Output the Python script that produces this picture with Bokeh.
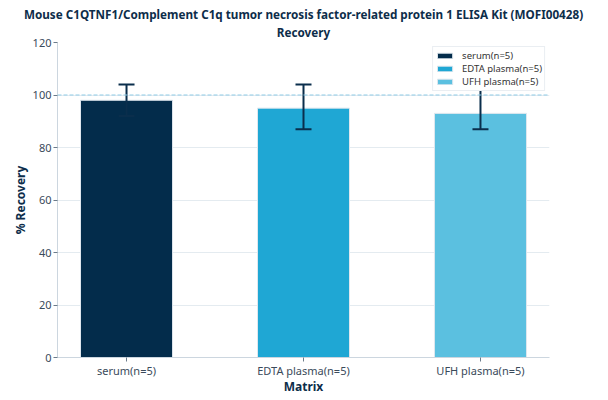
from bokeh.plotting import figure
from bokeh.models import (ColumnDataSource, Range1d, FixedTicker, Whisker, TeeHead,
                          Span, Title, Spacer)
from bokeh.layouts import row
from bokeh.embed import file_html
from bokeh.resources import INLINE

categories = ["serum(n=5)", "EDTA plasma(n=5)", "UFH plasma(n=5)"]
recovery = [98, 95, 93]
err_upper = [104, 104, 105]
err_lower = [92, 87, 87]
colors = ["#032c4b", "#1fa7d4", "#5bc0e0"]
y_ticks = [0, 20, 40, 60, 80, 100, 120]
title_lines = ["Mouse C1QTNF1/Complement C1q tumor necrosis factor-related protein 1 ELISA Kit (MOFI00428)",
               "Recovery"]

FONT = "Noto Sans"
NAVY = "#0d2d4a"
ERR = "#0a2e4c"

xs = list(range(len(categories)))
src = ColumnDataSource(dict(x=xs, cat=categories, y=recovery, up=err_upper,
                            lo=err_lower, color=colors))

p = figure(frame_width=492, frame_height=315, output_backend="svg", toolbar_location=None,
           x_range=Range1d(-0.39, 2.39), y_range=Range1d(0, 120),
           min_border_left=0, min_border_right=50, min_border_bottom=0,
           min_border_top=0)
p.outline_line_color = None

p.vbar(x="x", top="y", width=0.52, source=src, fill_color="color",
       line_color="#dfe7ee", line_width=1, legend_field="cat")

w = Whisker(base="x", upper="up", lower="lo", source=src, level="glyph",
            line_color=ERR, line_width=2,
            upper_head=TeeHead(size=16, line_color=ERR, line_width=2),
            lower_head=TeeHead(size=16, line_color=ERR, line_width=2))
p.add_layout(w)

p.add_layout(Span(location=100, dimension="width", line_color="#8fcbe6",
                  line_dash="4 2", line_width=1.2))

# axes
p.xaxis.ticker = FixedTicker(ticks=xs)
p.xaxis.major_label_overrides = {i: c for i, c in zip(xs, categories)}
p.yaxis.ticker = FixedTicker(ticks=y_ticks)
for ax in (p.xaxis[0], p.yaxis[0]):
    ax.axis_line_color = "#ccd6df"
    ax.major_tick_line_color = "#6b7b8a"
    ax.major_tick_out = 4
    ax.major_tick_in = 0
    ax.minor_tick_line_color = None
    ax.major_label_text_font = FONT
    ax.major_label_text_font_size = "11px"
    ax.major_label_text_color = "#3a4a5a"
    ax.axis_label_text_font = FONT
    ax.axis_label_text_font_size = "12px"
    ax.axis_label_text_font_style = "bold"
    ax.axis_label_text_color = NAVY
p.xaxis.axis_label = "Matrix"
p.yaxis.axis_label = "% Recovery"
p.xaxis.axis_label_standoff = -3
p.xaxis.major_label_standoff = 1
p.yaxis.axis_label_standoff = 1
p.yaxis.major_label_standoff = 2

p.xgrid.grid_line_color = None
p.ygrid.grid_line_color = "#e4ebf0"
p.ygrid.grid_line_width = 1

# two-line title: add the lower line first so it sits closest to the plot
p.add_layout(Title(text=title_lines[1], align="center", text_font=FONT,
                   text_font_size="11.7px", text_font_style="bold",
                   text_color=NAVY, standoff=5), "above")
p.add_layout(Title(text=title_lines[0], align="center", text_font=FONT,
                   text_font_size="11.7px", text_font_style="bold",
                   text_color=NAVY, standoff=-4), "above")
# small empty spacer above the title
p.add_layout(Title(text=" ", text_font_size="3px", standoff=0), "above")

lg = p.legend[0]
lg.location = "top_right"
lg.label_text_font = FONT
lg.label_text_font_size = "9.5px"
lg.label_text_color = "#333333"
lg.border_line_color = "#d5dde5"
lg.background_fill_alpha = 1
lg.glyph_width = 19
lg.glyph_height = 7
lg.label_height = 13
lg.spacing = 0
lg.padding = 2
lg.margin = 4
lg.label_standoff = 8

layout = row(Spacer(width=8, height=10), p)
open("out.html", "w").write(file_html(layout, INLINE))
